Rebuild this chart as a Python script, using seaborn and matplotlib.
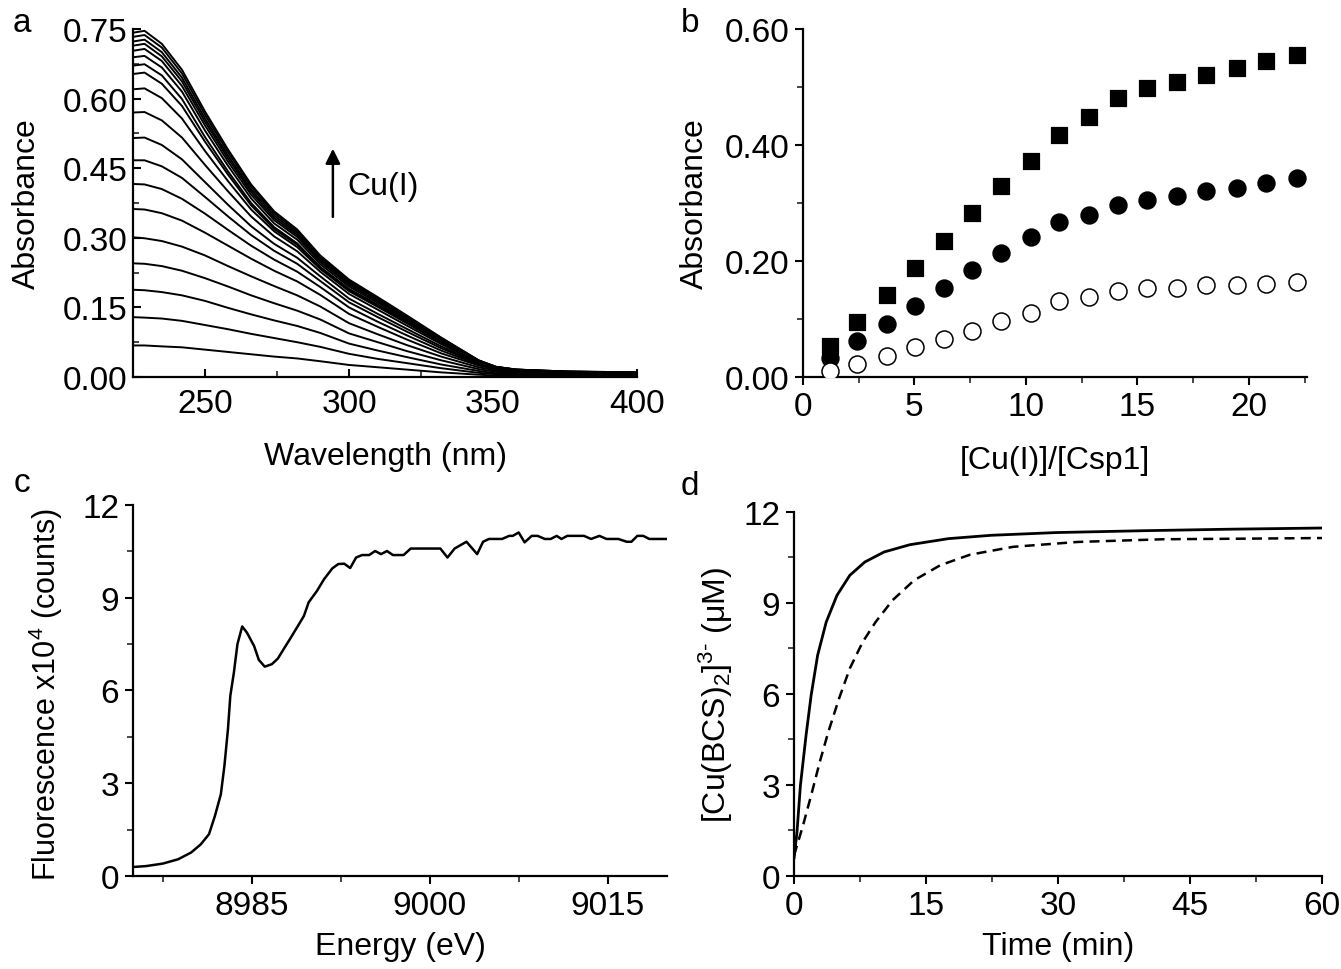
import numpy as np
import pandas as pd
import matplotlib
matplotlib.use("Agg")
import matplotlib.pyplot as plt
from matplotlib.ticker import MultipleLocator, FormatStrFormatter
import seaborn as sns

# ---- panel a: UV-vis titration spectra ----
wavelength_nm = [225, 229, 235, 242, 250, 258, 266, 274, 282, 290,
                 300, 310, 320, 332, 345, 351, 358, 375, 400]
spectra = [
    [0.742, 0.746, 0.718, 0.662, 0.572, 0.490, 0.415, 0.357, 0.318, 0.262, 0.210, 0.172, 0.133, 0.085, 0.036, 0.022, 0.016, 0.012, 0.010],
    [0.733, 0.737, 0.710, 0.654, 0.565, 0.484, 0.410, 0.353, 0.314, 0.259, 0.207, 0.170, 0.131, 0.084, 0.036, 0.022, 0.016, 0.012, 0.010],
    [0.723, 0.727, 0.700, 0.645, 0.557, 0.477, 0.404, 0.348, 0.310, 0.255, 0.205, 0.168, 0.129, 0.083, 0.035, 0.022, 0.016, 0.012, 0.009],
    [0.714, 0.718, 0.691, 0.637, 0.550, 0.471, 0.399, 0.343, 0.306, 0.252, 0.202, 0.166, 0.128, 0.082, 0.035, 0.021, 0.016, 0.011, 0.009],
    [0.703, 0.707, 0.681, 0.627, 0.542, 0.464, 0.393, 0.338, 0.302, 0.248, 0.199, 0.163, 0.126, 0.081, 0.034, 0.021, 0.015, 0.011, 0.009],
    [0.689, 0.692, 0.667, 0.615, 0.531, 0.455, 0.385, 0.331, 0.296, 0.243, 0.195, 0.160, 0.123, 0.079, 0.034, 0.021, 0.015, 0.011, 0.009],
    [0.671, 0.674, 0.650, 0.599, 0.517, 0.443, 0.375, 0.323, 0.288, 0.237, 0.190, 0.156, 0.120, 0.077, 0.033, 0.020, 0.015, 0.011, 0.009],
    [0.653, 0.656, 0.632, 0.584, 0.507, 0.436, 0.370, 0.319, 0.285, 0.236, 0.188, 0.154, 0.119, 0.076, 0.033, 0.020, 0.014, 0.010, 0.008],
    [0.620, 0.622, 0.601, 0.557, 0.487, 0.422, 0.361, 0.314, 0.280, 0.233, 0.185, 0.151, 0.116, 0.074, 0.032, 0.019, 0.014, 0.010, 0.008],
    [0.570, 0.571, 0.553, 0.516, 0.457, 0.400, 0.346, 0.303, 0.271, 0.227, 0.179, 0.145, 0.111, 0.071, 0.031, 0.019, 0.014, 0.010, 0.008],
    [0.515, 0.516, 0.500, 0.469, 0.420, 0.371, 0.325, 0.287, 0.257, 0.217, 0.169, 0.136, 0.104, 0.066, 0.030, 0.018, 0.013, 0.010, 0.008],
    [0.467, 0.467, 0.454, 0.429, 0.388, 0.346, 0.306, 0.272, 0.244, 0.207, 0.161, 0.129, 0.098, 0.062, 0.029, 0.018, 0.013, 0.009, 0.008],
    [0.416, 0.415, 0.405, 0.384, 0.352, 0.317, 0.283, 0.253, 0.227, 0.194, 0.150, 0.119, 0.090, 0.057, 0.027, 0.017, 0.012, 0.009, 0.007],
    [0.362, 0.361, 0.353, 0.337, 0.311, 0.283, 0.255, 0.229, 0.206, 0.177, 0.136, 0.108, 0.081, 0.051, 0.025, 0.016, 0.010, 0.008, 0.007],
    [0.301, 0.299, 0.293, 0.281, 0.262, 0.239, 0.217, 0.196, 0.176, 0.152, 0.116, 0.092, 0.069, 0.044, 0.021, 0.014, 0.009, 0.007, 0.006],
    [0.245, 0.244, 0.239, 0.229, 0.213, 0.195, 0.176, 0.159, 0.143, 0.124, 0.094, 0.075, 0.056, 0.036, 0.017, 0.011, 0.007, 0.005, 0.005],
    [0.188, 0.187, 0.183, 0.176, 0.164, 0.149, 0.135, 0.122, 0.110, 0.095, 0.072, 0.057, 0.043, 0.027, 0.013, 0.008, 0.006, 0.004, 0.004],
    [0.129, 0.128, 0.126, 0.121, 0.112, 0.103, 0.093, 0.084, 0.075, 0.065, 0.050, 0.039, 0.030, 0.019, 0.009, 0.006, 0.004, 0.003, 0.003],
    [0.068, 0.068, 0.066, 0.064, 0.059, 0.054, 0.049, 0.044, 0.040, 0.034, 0.026, 0.021, 0.016, 0.010, 0.005, 0.003, 0.002, 0.001, 0.001],
]

# ---- panel b: titration points ----
ratio_cu = [1.19, 2.44, 3.77, 5.02, 6.31, 7.60, 8.88, 10.21, 11.50,
            12.81, 14.13, 15.42, 16.77, 18.08, 19.46, 20.77, 22.15]
abs_squares = [0.053, 0.095, 0.141, 0.188, 0.234, 0.283, 0.329, 0.372, 0.417,
               0.449, 0.481, 0.498, 0.509, 0.521, 0.532, 0.544, 0.555]
abs_filled = [0.033, 0.062, 0.092, 0.122, 0.153, 0.184, 0.214, 0.241, 0.268,
              0.280, 0.297, 0.306, 0.312, 0.320, 0.326, 0.335, 0.343]
abs_open = [0.011, 0.023, 0.037, 0.051, 0.066, 0.080, 0.096, 0.111, 0.131,
            0.138, 0.148, 0.154, 0.154, 0.158, 0.159, 0.161, 0.164]

# ---- panel c: XANES edge ----
energy_ev = [8975.0, 8976.1, 8977.5, 8978.8, 8979.9, 8980.7, 8981.4, 8981.9, 8982.4, 8982.7,
             8983.0, 8983.2, 8983.5, 8983.8, 8984.2, 8984.6, 8985.2, 8985.6, 8986.1, 8986.7,
             8987.2, 8987.7, 8988.3, 8988.9, 8989.4, 8989.8, 8990.5, 8991.1, 8991.8, 8992.3,
             8992.8, 8993.3, 8993.8, 8994.3, 8994.9, 8995.4, 8995.9, 8996.4, 8996.9, 8997.8,
             8998.4, 9000.9, 9001.5, 9002.1, 9003.1, 9004.0, 9004.5, 9005.0, 9006.1, 9006.7,
             9007.0, 9007.5, 9008.0, 9008.6, 9009.1, 9009.7, 9010.2, 9010.7, 9011.1, 9011.6,
             9013.0, 9013.6, 9014.3, 9014.9, 9015.9, 9016.6, 9017.0, 9017.5, 9018.0, 9018.5,
             9020.0]
fluorescence = [0.29, 0.32, 0.40, 0.54, 0.76, 1.02, 1.35, 1.94, 2.64, 3.56,
                4.75, 5.83, 6.58, 7.50, 8.07, 7.87, 7.44, 6.99, 6.77, 6.85,
                7.03, 7.34, 7.71, 8.09, 8.41, 8.85, 9.22, 9.60, 9.95, 10.09,
                10.10, 9.96, 10.30, 10.38, 10.38, 10.51, 10.41, 10.51, 10.38, 10.38,
                10.59, 10.59, 10.30, 10.59, 10.81, 10.41, 10.81, 10.90, 10.90, 11.00,
                11.00, 11.11, 10.79, 11.00, 11.00, 10.90, 10.90, 11.00, 10.90, 11.00,
                11.00, 10.90, 11.00, 10.90, 10.90, 10.81, 10.81, 11.00, 11.00, 10.90,
                10.90]

# ---- panel d: BCS kinetics ----
time_solid = [0, 0.34, 0.73, 1.37, 1.95, 2.68, 3.66, 4.88, 6.34, 8.05,
              10.24, 13.17, 17.56, 22.4, 29.8, 39.5, 49.3, 60]
conc_solid = [0.57, 1.45, 2.99, 4.64, 5.96, 7.27, 8.37, 9.25, 9.91, 10.35,
              10.68, 10.92, 11.12, 11.23, 11.32, 11.38, 11.43, 11.47]
time_dashed = [0, 0.98, 1.95, 2.93, 3.9, 5.12, 6.34, 7.8, 9.27, 11.2,
               13.66, 16.6, 20.0, 24.9, 32.2, 42.0, 51.7, 60]
conc_dashed = [0.68, 1.62, 2.66, 3.76, 4.75, 5.85, 6.84, 7.71, 8.37, 9.09,
               9.75, 10.24, 10.59, 10.85, 11.01, 11.10, 11.12, 11.14]

sns.set_theme(style="ticks")
plt.rcParams["font.family"] = ["Liberation Sans", "DejaVu Sans"]
plt.rcParams["mathtext.fontset"] = "custom"
plt.rcParams["mathtext.rm"] = "Liberation Sans"
plt.rcParams["mathtext.it"] = "Liberation Sans:italic"
plt.rcParams["axes.linewidth"] = 1.6
plt.rcParams["axes.edgecolor"] = "black"
plt.rcParams["axes.labelcolor"] = "black"
plt.rcParams["text.color"] = "black"

FS_TICK = 24
FS_LABEL = 23

fig = plt.figure(figsize=(13.41, 9.70), dpi=100)
ax_a = fig.add_axes([0.0992, 0.6103, 0.3758, 0.3588])
ax_b = fig.add_axes([0.5988, 0.6103, 0.3758, 0.3588])
ax_c = fig.add_axes([0.0992, 0.0959, 0.3982, 0.3825])
ax_d = fig.add_axes([0.5921, 0.0959, 0.3937, 0.3753])


def style_axes(ax, direction):
    sns.despine(ax=ax)
    ax.set_facecolor("white")
    ax.tick_params(which="major", direction=direction, length=6, width=1.5,
                   labelsize=FS_TICK, colors="black", pad=4)
    ax.tick_params(which="minor", direction=direction, length=4, width=1.2)


# panel a
rows = []
for i, spec in enumerate(spectra):
    for wl, val in zip(wavelength_nm, spec):
        rows.append({"curve": i, "wavelength": wl, "absorbance": val})
df_a = pd.DataFrame(rows)
sns.lineplot(data=df_a, x="wavelength", y="absorbance", units="curve",
             estimator=None, color="black", linewidth=1.4, sort=False, ax=ax_a)
ax_a.set_xlim(225, 400)
ax_a.set_ylim(0, 0.75)
ax_a.xaxis.set_major_locator(MultipleLocator(50))
ax_a.xaxis.set_minor_locator(MultipleLocator(25))
ax_a.yaxis.set_major_locator(MultipleLocator(0.15))
ax_a.yaxis.set_minor_locator(MultipleLocator(0.075))
ax_a.yaxis.set_major_formatter(FormatStrFormatter("%.2f"))
style_axes(ax_a, "in")
ax_a.tick_params(axis="x", pad=8)
ax_a.set_xlabel("Wavelength (nm)", fontsize=FS_LABEL)
ax_a.set_ylabel("Absorbance", fontsize=FS_LABEL)
ax_a.xaxis.set_label_coords(0.5, -0.185)
ax_a.yaxis.set_label_coords(-0.18, 0.5)
ax_a.annotate("", xy=(294.4, 0.492), xytext=(294.4, 0.345),
              arrowprops=dict(arrowstyle="-|>", color="black", lw=1.8,
                              mutation_scale=22, shrinkA=0, shrinkB=0))
ax_a.text(299.5, 0.412, "Cu(I)", fontsize=FS_LABEL, va="center", ha="left")

# panel b
sns.scatterplot(x=ratio_cu, y=abs_squares, marker="s", s=120, color="black",
                edgecolor="black", ax=ax_b, zorder=3)
sns.scatterplot(x=ratio_cu, y=abs_filled, marker="o", s=150, color="black",
                edgecolor="black", ax=ax_b, zorder=3)
sns.scatterplot(x=ratio_cu, y=abs_open, marker="o", s=150, facecolor="white",
                edgecolor="black", linewidth=1.1, ax=ax_b, zorder=3)
ax_b.set_xlim(0, 22.6)
ax_b.set_ylim(0, 0.6)
ax_b.xaxis.set_major_locator(MultipleLocator(5))
ax_b.xaxis.set_minor_locator(MultipleLocator(2.5))
ax_b.yaxis.set_major_locator(MultipleLocator(0.2))
ax_b.yaxis.set_minor_locator(MultipleLocator(0.1))
ax_b.yaxis.set_major_formatter(FormatStrFormatter("%.2f"))
style_axes(ax_b, "out")
ax_b.set_xlabel("[Cu(I)]/[Csp1]", fontsize=FS_LABEL)
ax_b.set_ylabel("Absorbance", fontsize=FS_LABEL)
ax_b.xaxis.set_label_coords(0.5, -0.195)
ax_b.yaxis.set_label_coords(-0.185, 0.5)

# panel c
sns.lineplot(x=energy_ev, y=fluorescence, color="black", linewidth=1.8,
             sort=False, ax=ax_c)
ax_c.set_xlim(8975, 9020)
ax_c.set_ylim(0, 12)
ax_c.xaxis.set_major_locator(MultipleLocator(15))
ax_c.xaxis.set_minor_locator(MultipleLocator(7.5))
ax_c.yaxis.set_major_locator(MultipleLocator(3))
ax_c.yaxis.set_minor_locator(MultipleLocator(1.5))
style_axes(ax_c, "out")
ax_c.set_xlabel("Energy (eV)", fontsize=FS_LABEL)
ax_c.set_ylabel("Fluorescence x10$^{4}$ (counts)", fontsize=FS_LABEL - 1)
ax_c.xaxis.set_label_coords(0.5, -0.148)
ax_c.yaxis.set_label_coords(-0.127, 0.49)

# panel d
sns.lineplot(x=time_solid, y=conc_solid, color="black", linewidth=2.0,
             sort=False, ax=ax_d)
sns.lineplot(x=time_dashed, y=conc_dashed, color="black", linewidth=1.8,
             sort=False, ax=ax_d, dashes=False, linestyle=(0, (4, 2.5)))
ax_d.set_xlim(0, 60)
ax_d.set_ylim(0, 12)
ax_d.xaxis.set_major_locator(MultipleLocator(15))
ax_d.xaxis.set_minor_locator(MultipleLocator(7.5))
ax_d.yaxis.set_major_locator(MultipleLocator(3))
ax_d.yaxis.set_minor_locator(MultipleLocator(1.5))
style_axes(ax_d, "out")
ax_d.set_xlabel("Time (min)", fontsize=FS_LABEL)
ax_d.set_ylabel(r"[Cu(BCS)$_{2}$]$^{3\text{-}}$ (μM)", fontsize=FS_LABEL)
ax_d.xaxis.set_label_coords(0.5, -0.15)
ax_d.yaxis.set_label_coords(-0.112, 0.5)

for letter, (px, py) in zip("abcd", [(22, 24), (690, 24), (22, 484), (690, 487)]):
    fig.text(px / 1341, 1 - py / 970, letter, fontsize=FS_LABEL + 1,
             ha="center", va="center")

fig.savefig("out.png", dpi=100, facecolor="white")
